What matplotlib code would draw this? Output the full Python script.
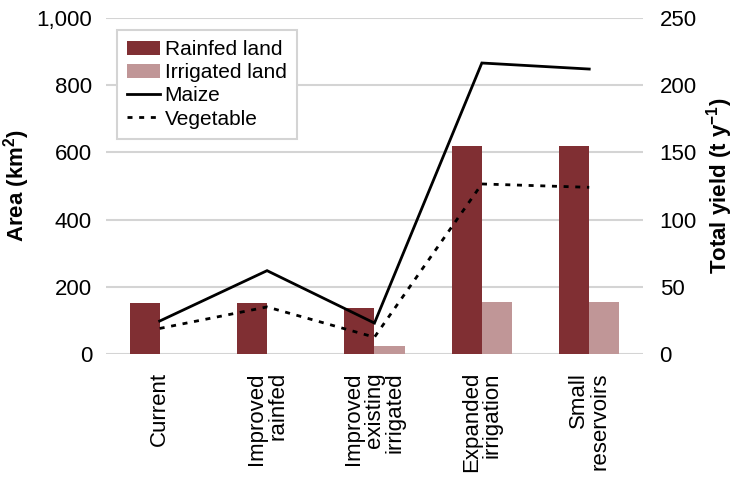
import numpy as np
import matplotlib
matplotlib.use("Agg")
import matplotlib.pyplot as plt
from matplotlib.ticker import FuncFormatter
from matplotlib.lines import Line2D
from matplotlib.patches import Patch

# ── Data ────────────────────────────────────────────────────────────────────
scenarios = ["Current", "Improved\nrainfed", "Improved\nexisting\nirrigated",
             "Expanded\nirrigation", "Small\nreservoirs"]
rainfed_area = [152, 152, 137, 619, 619]      # km²
irrigated_area = [0, 0, 24, 155, 155]         # km²
maize_yield = [24.5, 62, 23, 216.5, 212]      # t/y
veg_yield = [19, 35, 12.5, 126.5, 124]        # t/y

C_RAIN = "#802F33"
C_IRR = "#C09697"
C_GRID = "#D4D4D4"

# ── Style ───────────────────────────────────────────────────────────────────
plt.rcParams.update({
    "font.family": ["Liberation Sans", "DejaVu Sans"],
    "mathtext.fontset": "custom",
    "mathtext.rm": "Liberation Sans",
    "mathtext.bf": "Liberation Sans:bold",
    "mathtext.it": "Liberation Sans:italic",
})

fig = plt.figure(figsize=(7.39, 4.82), dpi=100)
ax = fig.add_axes([0.1434, 0.2656, 0.7266, 0.6971])
ax2 = ax.twinx()

x = np.arange(len(scenarios))
w = 0.28

ax.bar(x - w / 2, rainfed_area, w, color=C_RAIN, zorder=2)
ax.bar(x + w / 2, irrigated_area, w, color=C_IRR, zorder=2)

ax.set_xlim(-0.5, len(scenarios) - 0.5)
ax.set_ylim(0, 1000)
ax.set_yticks(np.arange(0, 1001, 200))
ax.yaxis.set_major_formatter(FuncFormatter(lambda v, p: f"{v:,.0f}"))
ax.grid(axis="y", color=C_GRID, lw=1.5, zorder=0)
ax.set_axisbelow(True)

ax.set_xticks(x)
ax.set_xticklabels(scenarios, rotation=90, multialignment="right",
                   va="top", ha="center", fontsize=16, linespacing=1.0)
ax.tick_params(axis="x", length=0, pad=13)
ax.tick_params(axis="y", length=0, pad=10, labelsize=16)

ax2.plot(x, maize_yield, color="black", lw=2.0, solid_joinstyle="miter")
ax2.plot(x, veg_yield, color="black", lw=2.0, dashes=(1.8, 2.4))
ax2.set_ylim(0, 250)
ax2.set_yticks(np.arange(0, 251, 50))
ax2.tick_params(axis="y", length=0, pad=12, labelsize=16)

for a in (ax, ax2):
    for s in a.spines.values():
        s.set_visible(False)

ax.set_ylabel(r"Area (km$^{\mathbf{2}}$)", fontsize=16, fontweight="bold",
              labelpad=3)
ax2.set_ylabel(r"Total yield (t y$^{\mathbf{-1}}$)", fontsize=16,
               fontweight="bold", labelpad=5)

handles = [
    Patch(facecolor=C_RAIN, label="Rainfed land"),
    Patch(facecolor=C_IRR, label="Irrigated land"),
    Line2D([0], [0], color="black", lw=2.0, label="Maize"),
    Line2D([0], [0], color="black", lw=2.0, dashes=(1.8, 2.4),
           label="Vegetable"),
]
leg = ax2.legend(handles=handles, loc="upper left",
                 bbox_to_anchor=(0.02, 0.965), borderaxespad=0,
                 fontsize=15, frameon=True, fancybox=False,
                 edgecolor=C_GRID, framealpha=1, handlelength=1.6,
                 handleheight=0.7, handletextpad=0.2, labelspacing=0.2,
                 borderpad=0.5)
leg.get_frame().set_linewidth(1.5)

fig.savefig("out.png", dpi=100)
